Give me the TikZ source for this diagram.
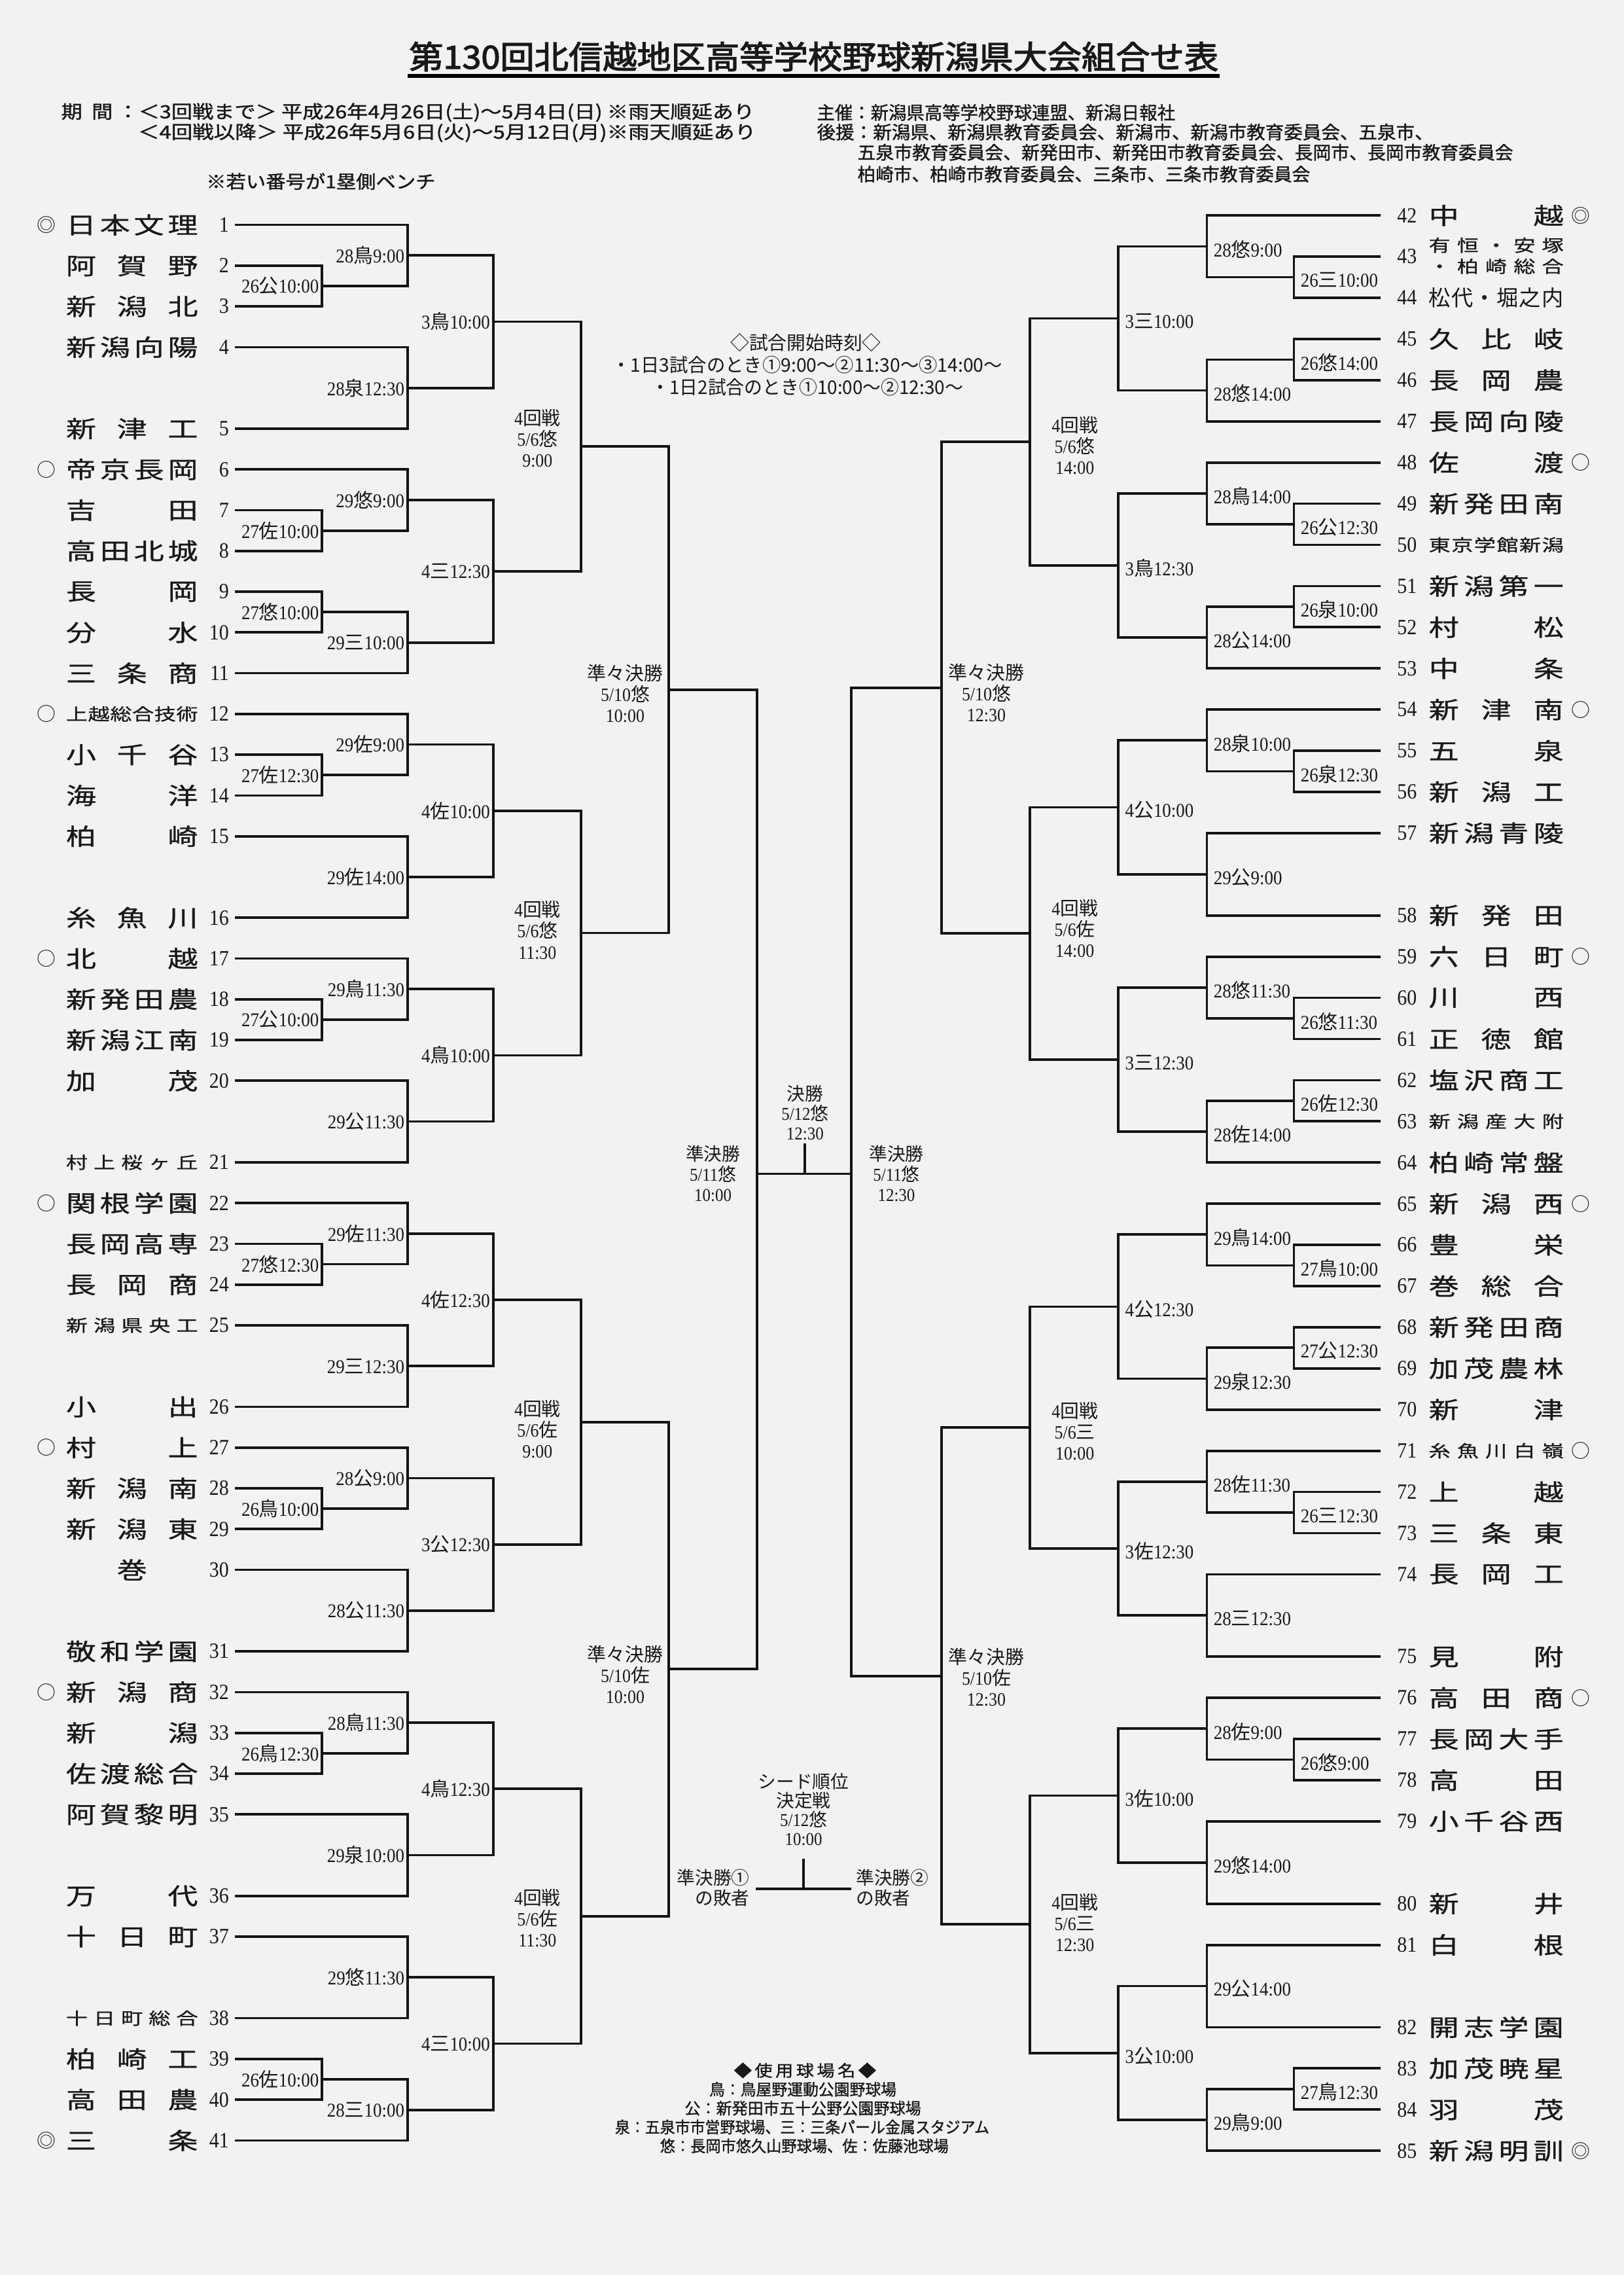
\documentclass[tikz,border=0pt]{standalone}
\usepackage{fontspec}
\usepackage{graphicx}
\usetikzlibrary{calc}
\setmainfont[FakeStretch=0.9]{Liberation Serif}
\newfontfamily\cjk{Noto Sans CJK JP}
\newfontfamily\cjkw[FakeStretch=1.3,FakeBold=0.8]{Noto Sans CJK JP}
\newfontfamily\cjkb[FakeBold=1.2]{Noto Sans CJK JP}
\newfontfamily\cjkt[FakeBold=2.5]{Noto Sans CJK JP}
\newcommand\lb[3]{#1{\cjk #2}#3}
\newcommand\sm{\fontsize{11.5}{12}\selectfont}
\tikzset{
 br/.style={line width=1.7pt, draw=black!92},
 glab/.style={inner sep=0pt, font=\fontsize{13.5}{14}\selectfont},
 numL/.style={anchor=east, inner sep=0pt, font=\fontsize{15}{15}\selectfont},
 numR/.style={anchor=west, inner sep=0pt, font=\fontsize{15}{15}\selectfont},
 tname/.style={inner sep=0pt, font=\cjkw\fontsize{16}{16}\selectfont},
 mk/.style={inner sep=0pt, font=\cjk\fontsize{13}{13}\selectfont},
 rlab/.style={inner sep=0pt, align=center, font=\fontsize{13}{14.5}\selectfont},
 clab/.style={inner sep=0pt, align=center, font=\fontsize{12.5}{13.5}\selectfont},
 hd/.style={inner sep=0pt, anchor=west, font=\cjkb\fontsize{12.5}{13}\selectfont},
 tt/.style={inner sep=0pt, font=\cjk\fontsize{13}{14}\selectfont},
 lg/.style={inner sep=0pt, font=\cjkb\fontsize{11}{12}\selectfont},
}
% left team: number, slot, name
\newcommand\TL[3]{%
 \coordinate (a#1) at (162,{155+28.09*#2});
 \node[numL] (n#1) at (158,{155+28.09*#2}) {#1};
 \node[tname] (m#1) at (91,{155+28.09*#2}) {\makebox[91pt][s]{#3}};}
\newcommand\TR[3]{%
 \coordinate (a#1) at (952,{148.5+28.38*#2});
 \node[numR] (n#1) at (963,{148.5+28.38*#2}) {#1};
 \node[tname] (m#1) at (1031.5,{148.5+28.38*#2}) {\makebox[93pt][s]{#3}};}
\newcommand\MKL[3]{\node[mk] (k#1) at (32,{155+28.09*#2}) {#3};}
\newcommand\MKR[3]{\node[mk] (k#1) at (1090,{148.5+28.38*#2}) {#3};}
% games
\newcommand\GLN[4]{%
 \coordinate (#1m) at ($(#3)!0.5!(#4)$);
 \coordinate (#1) at (#1m -| #2);
 \draw[br] (#3) -| (#1);
 \draw[br] (#4) -| (#1);}
\newcommand\GL[5]{\GLN{#1}{#2}{#3}{#4}%
 \node[glab,anchor=east] (#1t) at ([xshift=-2pt]#1) {#5};}
\newcommand\GR[5]{\GLN{#1}{#2}{#3}{#4}%
 \node[glab,anchor=west] (#1t) at ([xshift=4.5pt,yshift=-2pt]#1) {#5};}

\begin{document}
\begin{tikzpicture}[x=1pt,y=-1pt,text=black!90]
\fill[black!5] (0,0) rectangle (1119.6,1568);
\useasboundingbox (0,0) rectangle (1119.6,1568);

% ---------- title and header ----------
\node[inner sep=0pt, font=\cjkt\fontsize{22}{22}\selectfont] (ttl) at (561,39)
  {\resizebox{558pt}{\height}{第130回北信越地区高等学校野球新潟県大会組合せ表}};
\coordinate (u1) at (281,52.5); \coordinate (u2) at (841,52.5);
\draw[line width=2.6pt] (u1) -- (u2);

\node[hd] (h1) at (42,77.5) {\resizebox{478pt}{\height}{期\ \ 間\ ：＜3回戦まで＞\ 平成26年4月26日(土)～5月4日(日)\ ※雨天順延あり}};
\node[hd] (h2) at (95,91.5) {\resizebox{426pt}{\height}{＜4回戦以降＞\ 平成26年5月6日(火)～5月12日(月)※雨天順延あり}};
\node[hd] (h3) at (563,77.5) {\resizebox{247pt}{\height}{主催：新潟県高等学校野球連盟、新潟日報社}};
\node[hd] (h4) at (563,91) {\resizebox{425pt}{\height}{後援：新潟県、新潟県教育委員会、新潟市、新潟市教育委員会、五泉市、}};
\node[hd] (h5) at (591,105) {\resizebox{452pt}{\height}{五泉市教育委員会、新発田市、新発田市教育委員会、長岡市、長岡市教育委員会}};
\node[hd] (h6) at (591,120) {\resizebox{312pt}{\height}{柏崎市、柏崎市教育委員会、三条市、三条市教育委員会}};
\node[hd] (h7) at (142,125) {\resizebox{158pt}{\height}{※若い番号が1塁側ベンチ}};

\node[tt] (tt1) at (555.5,236) {◇試合開始時刻◇};
\node[tt] (tt2) at (556.5,251.5) {\resizebox{269pt}{\height}{・1日3試合のとき①9:00～②11:30～③14:00～}};
\node[tt] (tt3) at (556.5,267) {\resizebox{215pt}{\height}{・1日2試合のとき①10:00～②12:30～}};

% ---------- columns ----------
\coordinate (XL1) at (222,0);   \coordinate (XL2) at (281,0);
\coordinate (XL3) at (340,0);   \coordinate (XL4) at (400.5,0);
\coordinate (XL5) at (461,0);
\coordinate (XR1) at (892,0);   \coordinate (XR2) at (832,0);
\coordinate (XR3) at (771,0);   \coordinate (XR4) at (710,0);
\coordinate (XR5) at (649,0);

% ---------- left teams ----------
\TL{1}{0}{日\hfill 本\hfill 文\hfill 理}
\TL{2}{1}{阿\hfill 賀\hfill 野}
\TL{3}{2}{新\hfill 潟\hfill 北}
\TL{4}{3}{新\hfill 潟\hfill 向\hfill 陽}
\TL{5}{5}{新\hfill 津\hfill 工}
\TL{6}{6}{帝\hfill 京\hfill 長\hfill 岡}
\TL{7}{7}{吉\hfill 田}
\TL{8}{8}{高\hfill 田\hfill 北\hfill 城}
\TL{9}{9}{長\hfill 岡}
\TL{10}{10}{分\hfill 水}
\TL{11}{11}{三\hfill 条\hfill 商}
\TL{12}{12}{\sm 上\hfill 越\hfill 総\hfill 合\hfill 技\hfill 術}
\TL{13}{13}{小\hfill 千\hfill 谷}
\TL{14}{14}{海\hfill 洋}
\TL{15}{15}{柏\hfill 崎}
\TL{16}{17}{糸\hfill 魚\hfill 川}
\TL{17}{18}{北\hfill 越}
\TL{18}{19}{新\hfill 発\hfill 田\hfill 農}
\TL{19}{20}{新\hfill 潟\hfill 江\hfill 南}
\TL{20}{21}{加\hfill 茂}
\TL{21}{23}{\sm 村\hfill 上\hfill 桜\hfill ヶ\hfill 丘}
\TL{22}{24}{関\hfill 根\hfill 学\hfill 園}
\TL{23}{25}{長\hfill 岡\hfill 高\hfill 専}
\TL{24}{26}{長\hfill 岡\hfill 商}
\TL{25}{27}{\sm 新\hfill 潟\hfill 県\hfill 央\hfill 工}
\TL{26}{29}{小\hfill 出}
\TL{27}{30}{村\hfill 上}
\TL{28}{31}{新\hfill 潟\hfill 南}
\TL{29}{32}{新\hfill 潟\hfill 東}
\TL{30}{33}{\hfill 巻\hfill}
\TL{31}{35}{敬\hfill 和\hfill 学\hfill 園}
\TL{32}{36}{新\hfill 潟\hfill 商}
\TL{33}{37}{新\hfill 潟}
\TL{34}{38}{佐\hfill 渡\hfill 総\hfill 合}
\TL{35}{39}{阿\hfill 賀\hfill 黎\hfill 明}
\TL{36}{41}{万\hfill 代}
\TL{37}{42}{十\hfill 日\hfill 町}
\TL{38}{44}{\sm 十\hfill 日\hfill 町\hfill 総\hfill 合}
\TL{39}{45}{柏\hfill 崎\hfill 工}
\TL{40}{46}{高\hfill 田\hfill 農}
\TL{41}{47}{三\hfill 条}
\MKL{1}{0}{◎} \MKL{6}{6}{○} \MKL{12}{12}{○} \MKL{17}{18}{○}
\MKL{22}{24}{○} \MKL{27}{30}{○} \MKL{32}{36}{○} \MKL{41}{47}{◎}

% ---------- right teams ----------
\TR{42}{0}{中\hfill 越}
\coordinate (a43) at (952,{148.5+28.38*1});
\node[numR] (n43) at (963,{148.5+28.38*1}) {43};
\node[tname, align=center, font=\cjkw\fontsize{11.5}{14.5}\selectfont] (m43) at (1031.5,176.3)
  {\makebox[93pt][s]{有\hfill 恒\hfill ・\hfill 安\hfill 塚}\\\makebox[93pt][s]{・\hfill 柏\hfill 崎\hfill 総\hfill 合}};
\TR{44}{2}{\cjk\fontsize{15}{15}\selectfont 松\hfill 代\hfill ・\hfill 堀\hfill 之\hfill 内}
\TR{45}{3}{久\hfill 比\hfill 岐}
\TR{46}{4}{長\hfill 岡\hfill 農}
\TR{47}{5}{長\hfill 岡\hfill 向\hfill 陵}
\TR{48}{6}{佐\hfill 渡}
\TR{49}{7}{新\hfill 発\hfill 田\hfill 南}
\TR{50}{8}{\sm 東\hfill 京\hfill 学\hfill 館\hfill 新\hfill 潟}
\TR{51}{9}{新\hfill 潟\hfill 第\hfill 一}
\TR{52}{10}{村\hfill 松}
\TR{53}{11}{中\hfill 条}
\TR{54}{12}{新\hfill 津\hfill 南}
\TR{55}{13}{五\hfill 泉}
\TR{56}{14}{新\hfill 潟\hfill 工}
\TR{57}{15}{新\hfill 潟\hfill 青\hfill 陵}
\TR{58}{17}{新\hfill 発\hfill 田}
\TR{59}{18}{六\hfill 日\hfill 町}
\TR{60}{19}{川\hfill 西}
\TR{61}{20}{正\hfill 徳\hfill 館}
\TR{62}{21}{塩\hfill 沢\hfill 商\hfill 工}
\TR{63}{22}{\sm 新\hfill 潟\hfill 産\hfill 大\hfill 附}
\TR{64}{23}{柏\hfill 崎\hfill 常\hfill 盤}
\TR{65}{24}{新\hfill 潟\hfill 西}
\TR{66}{25}{豊\hfill 栄}
\TR{67}{26}{巻\hfill 総\hfill 合}
\TR{68}{27}{新\hfill 発\hfill 田\hfill 商}
\TR{69}{28}{加\hfill 茂\hfill 農\hfill 林}
\TR{70}{29}{新\hfill 津}
\TR{71}{30}{\sm 糸\hfill 魚\hfill 川\hfill 白\hfill 嶺}
\TR{72}{31}{上\hfill 越}
\TR{73}{32}{三\hfill 条\hfill 東}
\TR{74}{33}{長\hfill 岡\hfill 工}
\TR{75}{35}{見\hfill 附}
\TR{76}{36}{高\hfill 田\hfill 商}
\TR{77}{37}{長\hfill 岡\hfill 大\hfill 手}
\TR{78}{38}{高\hfill 田}
\TR{79}{39}{小\hfill 千\hfill 谷\hfill 西}
\TR{80}{41}{新\hfill 井}
\TR{81}{42}{白\hfill 根}
\TR{82}{44}{開\hfill 志\hfill 学\hfill 園}
\TR{83}{45}{加\hfill 茂\hfill 暁\hfill 星}
\TR{84}{46}{羽\hfill 茂}
\TR{85}{47}{新\hfill 潟\hfill 明\hfill 訓}
\MKR{42}{0}{◎} \MKR{48}{6}{○} \MKR{54}{12}{○} \MKR{59}{18}{○}
\MKR{65}{24}{○} \MKR{71}{30}{○} \MKR{76}{36}{○} \MKR{85}{47}{◎}

% ---------- left bracket ----------
\GL{g23}{XL1}{a2}{a3}{\lb{26}{公}{10:00}}
\GL{g1}{XL2}{a1}{g23}{\lb{28}{鳥}{9:00}}
\GL{g45}{XL2}{a4}{a5}{\lb{28}{泉}{12:30}}
\GL{gA}{XL3}{g1}{g45}{\lb{3}{鳥}{10:00}}
\GL{g78}{XL1}{a7}{a8}{\lb{27}{佐}{10:00}}
\GL{g6}{XL2}{a6}{g78}{\lb{29}{悠}{9:00}}
\GL{g910}{XL1}{a9}{a10}{\lb{27}{悠}{10:00}}
\GL{g11}{XL2}{g910}{a11}{\lb{29}{三}{10:00}}
\GL{gB}{XL3}{g6}{g11}{\lb{4}{三}{12:30}}
\GLN{gAB}{XL4}{gA}{gB}
\GL{g1314}{XL1}{a13}{a14}{\lb{27}{佐}{12:30}}
\GL{g12}{XL2}{a12}{g1314}{\lb{29}{佐}{9:00}}
\GL{g1516}{XL2}{a15}{a16}{\lb{29}{佐}{14:00}}
\GL{gC}{XL3}{g12}{g1516}{\lb{4}{佐}{10:00}}
\GL{g1819}{XL1}{a18}{a19}{\lb{27}{公}{10:00}}
\GL{g17}{XL2}{a17}{g1819}{\lb{29}{鳥}{11:30}}
\GL{g2021}{XL2}{a20}{a21}{\lb{29}{公}{11:30}}
\GL{gD}{XL3}{g17}{g2021}{\lb{4}{鳥}{10:00}}
\GLN{gCD}{XL4}{gC}{gD}
\GLN{gQ1}{XL5}{gAB}{gCD}
\GL{g2324}{XL1}{a23}{a24}{\lb{27}{悠}{12:30}}
\GL{g22}{XL2}{a22}{g2324}{\lb{29}{佐}{11:30}}
\GL{g2526}{XL2}{a25}{a26}{\lb{29}{三}{12:30}}
\GL{gE}{XL3}{g22}{g2526}{\lb{4}{佐}{12:30}}
\GL{g2829}{XL1}{a28}{a29}{\lb{26}{鳥}{10:00}}
\GL{g27}{XL2}{a27}{g2829}{\lb{28}{公}{9:00}}
\GL{g3031}{XL2}{a30}{a31}{\lb{28}{公}{11:30}}
\GL{gF}{XL3}{g27}{g3031}{\lb{3}{公}{12:30}}
\GLN{gEF}{XL4}{gE}{gF}
\GL{g3334}{XL1}{a33}{a34}{\lb{26}{鳥}{12:30}}
\GL{g32}{XL2}{a32}{g3334}{\lb{28}{鳥}{11:30}}
\GL{g3536}{XL2}{a35}{a36}{\lb{29}{泉}{10:00}}
\GL{gG}{XL3}{g32}{g3536}{\lb{4}{鳥}{12:30}}
\GL{g3738}{XL2}{a37}{a38}{\lb{29}{悠}{11:30}}
\GL{g3940}{XL1}{a39}{a40}{\lb{26}{佐}{10:00}}
\GL{g41}{XL2}{g3940}{a41}{\lb{28}{三}{10:00}}
\GL{gH}{XL3}{g3738}{g41}{\lb{4}{三}{10:00}}
\GLN{gGH}{XL4}{gG}{gH}
\GLN{gQ2}{XL5}{gEF}{gGH}

\node[rlab] (l4a) at (370.5,302) {4{\cjk 回戦}\\5/6{\cjk 悠}\\9:00};
\node[rlab] (l4b) at (370.5,641) {4{\cjk 回戦}\\5/6{\cjk 悠}\\11:30};
\node[rlab] (l4c) at (370.5,985) {4{\cjk 回戦}\\5/6{\cjk 佐}\\9:00};
\node[rlab] (l4d) at (370.5,1322) {4{\cjk 回戦}\\5/6{\cjk 佐}\\11:30};
\node[rlab] (l5a) at (431,478) {{\cjk 準々決勝}\\5/10{\cjk 悠}\\10:00};
\node[rlab] (l5b) at (431,1154) {{\cjk 準々決勝}\\5/10{\cjk 佐}\\10:00};

% ---------- right bracket ----------
\GR{g4344}{XR1}{a43}{a44}{\lb{26}{三}{10:00}}
\GR{g42}{XR2}{a42}{g4344}{\lb{28}{悠}{9:00}}
\GR{g4546}{XR1}{a45}{a46}{\lb{26}{悠}{14:00}}
\GR{g47}{XR2}{g4546}{a47}{\lb{28}{悠}{14:00}}
\GR{ra}{XR3}{g42}{g47}{\lb{3}{三}{10:00}}
\GR{g4950}{XR1}{a49}{a50}{\lb{26}{公}{12:30}}
\GR{g48}{XR2}{a48}{g4950}{\lb{28}{鳥}{14:00}}
\GR{g5152}{XR1}{a51}{a52}{\lb{26}{泉}{10:00}}
\GR{g53}{XR2}{g5152}{a53}{\lb{28}{公}{14:00}}
\GR{rb}{XR3}{g48}{g53}{\lb{3}{鳥}{12:30}}
\GLN{rab}{XR4}{ra}{rb}
\GR{g5556}{XR1}{a55}{a56}{\lb{26}{泉}{12:30}}
\GR{g54}{XR2}{a54}{g5556}{\lb{28}{泉}{10:00}}
\GR{g5758}{XR2}{a57}{a58}{\lb{29}{公}{9:00}}
\GR{rc}{XR3}{g54}{g5758}{\lb{4}{公}{10:00}}
\GR{g6061}{XR1}{a60}{a61}{\lb{26}{悠}{11:30}}
\GR{g59}{XR2}{a59}{g6061}{\lb{28}{悠}{11:30}}
\GR{g6263}{XR1}{a62}{a63}{\lb{26}{佐}{12:30}}
\GR{g64}{XR2}{g6263}{a64}{\lb{28}{佐}{14:00}}
\GR{rd}{XR3}{g59}{g64}{\lb{3}{三}{12:30}}
\GLN{rcd}{XR4}{rc}{rd}
\GLN{gQ3}{XR5}{rab}{rcd}
\GR{g6667}{XR1}{a66}{a67}{\lb{27}{鳥}{10:00}}
\GR{g65}{XR2}{a65}{g6667}{\lb{29}{鳥}{14:00}}
\GR{g6869}{XR1}{a68}{a69}{\lb{27}{公}{12:30}}
\GR{g70}{XR2}{g6869}{a70}{\lb{29}{泉}{12:30}}
\GR{re}{XR3}{g65}{g70}{\lb{4}{公}{12:30}}
\GR{g7273}{XR1}{a72}{a73}{\lb{26}{三}{12:30}}
\GR{g71}{XR2}{a71}{g7273}{\lb{28}{佐}{11:30}}
\GR{g7475}{XR2}{a74}{a75}{\lb{28}{三}{12:30}}
\GR{rf}{XR3}{g71}{g7475}{\lb{3}{佐}{12:30}}
\GLN{ref}{XR4}{re}{rf}
\GR{g7778}{XR1}{a77}{a78}{\lb{26}{悠}{9:00}}
\GR{g76}{XR2}{a76}{g7778}{\lb{28}{佐}{9:00}}
\GR{g7980}{XR2}{a79}{a80}{\lb{29}{悠}{14:00}}
\GR{rg}{XR3}{g76}{g7980}{\lb{3}{佐}{10:00}}
\GR{g8182}{XR2}{a81}{a82}{\lb{29}{公}{14:00}}
\GR{g8384}{XR1}{a83}{a84}{\lb{27}{鳥}{12:30}}
\GR{g85}{XR2}{g8384}{a85}{\lb{29}{鳥}{9:00}}
\GR{rh}{XR3}{g8182}{g85}{\lb{3}{公}{10:00}}
\GLN{rgh}{XR4}{rg}{rh}
\GLN{gQ4}{XR5}{ref}{rgh}

\node[rlab] (r4a) at (741,307) {4{\cjk 回戦}\\5/6{\cjk 悠}\\14:00};
\node[rlab] (r4b) at (741,640) {4{\cjk 回戦}\\5/6{\cjk 佐}\\14:00};
\node[rlab] (r4c) at (741,986.5) {4{\cjk 回戦}\\5/6{\cjk 三}\\10:00};
\node[rlab] (r4d) at (741,1325) {4{\cjk 回戦}\\5/6{\cjk 三}\\12:30};
\node[rlab] (r5a) at (680,477.5) {{\cjk 準々決勝}\\5/10{\cjk 悠}\\12:30};
\node[rlab] (r5b) at (680,1156) {{\cjk 準々決勝}\\5/10{\cjk 佐}\\12:30};

% ---------- semifinals and final ----------
\coordinate (FL) at (522,809); \coordinate (FR) at (587,809);
\draw[br] (gQ1) -| (FL); \draw[br] (gQ2) -| (FL);
\draw[br] (gQ3) -| (FR); \draw[br] (gQ4) -| (FR);
\draw[br] (FL) -- (FR);
\coordinate (FT) at (555,788); \coordinate (FB) at (555,809);
\draw[br] (FT) -- (FB);
\node[clab] (fin) at (555,767) {{\cjk 決勝}\\5/12{\cjk 悠}\\12:30};
\node[clab, font=\fontsize{12.5}{14}\selectfont] (sfl) at (491.5,809) {{\cjk 準決勝}\\5/11{\cjk 悠}\\10:00};
\node[clab, font=\fontsize{12.5}{14}\selectfont] (sfr) at (618,809) {{\cjk 準決勝}\\5/11{\cjk 悠}\\12:30};

% ---------- seed decision game ----------
\node[clab, font=\fontsize{12.5}{13}\selectfont] (seed) at (554,1247) {{\cjk シード順位}\\{\cjk 決定戦}\\5/12{\cjk 悠}\\10:00};
\coordinate (SL) at (521,1302); \coordinate (SR) at (587,1302);
\coordinate (ST) at (554,1281); \coordinate (SB) at (554,1302);
\draw[br] (SL) -- (SR);
\draw[br] (ST) -- (SB);
\node[inner sep=0pt, anchor=east, align=right, font=\cjk\fontsize{12.5}{14}\selectfont] (los1) at (517,1301) {準決勝①\\の敗者};
\node[inner sep=0pt, anchor=west, align=left, font=\cjk\fontsize{12.5}{14}\selectfont] (los2) at (590,1301) {準決勝②\\の敗者};

% ---------- legend ----------
\node[lg] (lg0) at (555,1427) {\resizebox{98pt}{\height}{◆\,使\,用\,球\,場\,名\,◆}};
\node[lg] (lg1) at (553.5,1440) {\resizebox{129pt}{\height}{鳥：鳥屋野運動公園野球場}};
\node[lg] (lg2) at (553.5,1453) {\resizebox{163pt}{\height}{公：新発田市五十公野公園野球場}};
\node[lg] (lg3) at (553,1466) {\resizebox{258pt}{\height}{泉：五泉市市営野球場、三：三条パール金属スタジアム}};
\node[lg] (lg4) at (554.5,1479) {\resizebox{199pt}{\height}{悠：長岡市悠久山野球場、佐：佐藤池球場}};
\end{tikzpicture}
\end{document}
